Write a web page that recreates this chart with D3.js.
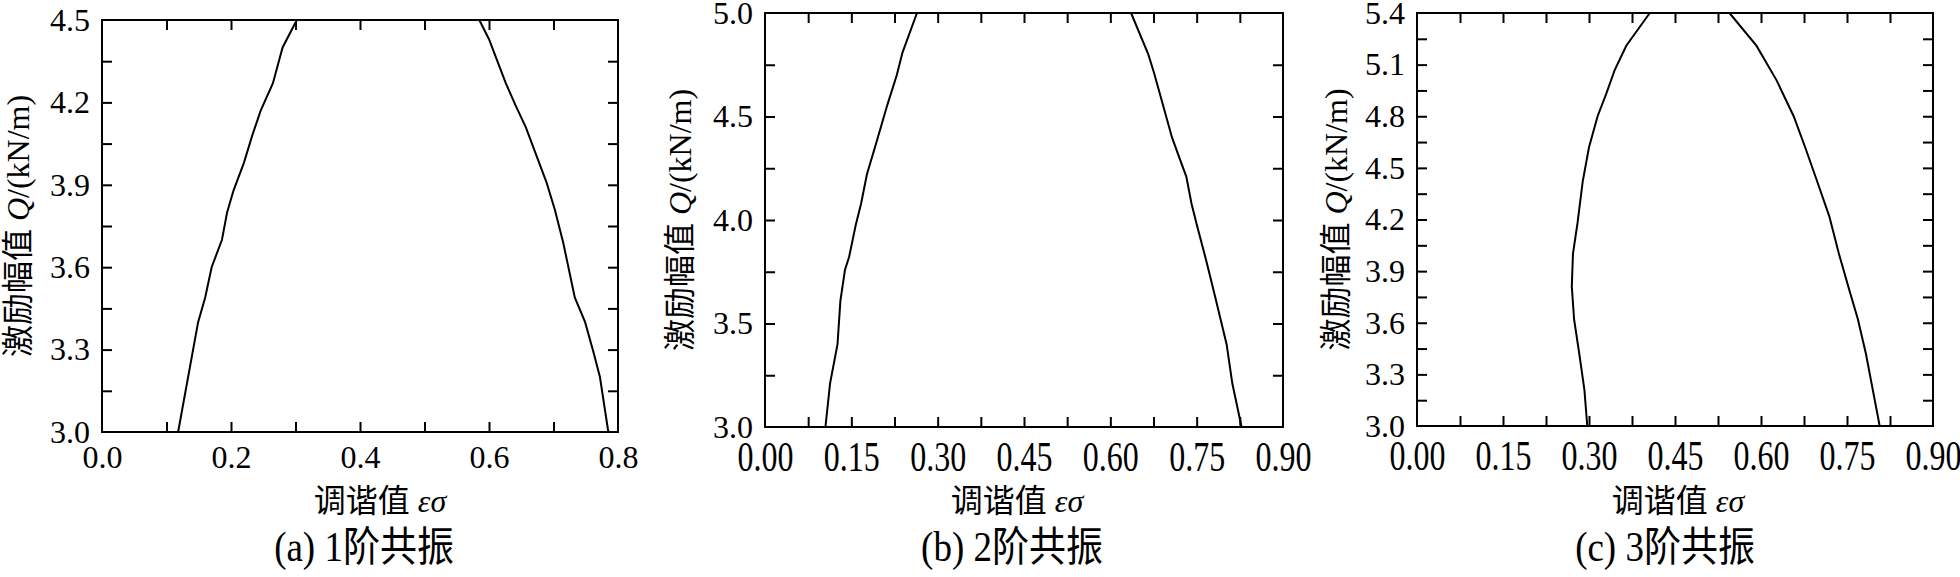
<!DOCTYPE html>
<html>
<head>
<meta charset="utf-8">
<title>激励幅值-调谐值</title>
<script src="https://cdn.jsdelivr.net/npm/d3@7"></script>
<style>
  body { margin: 0; background: #fff; }
  text { font-family: "Liberation Serif", "Noto Sans CJK SC", serif; fill: #000; }
</style>
</head>
<body>
<script>
// (a) 1阶共振
const p1LeftE  = [0.118, 0.149, 0.160, 0.170, 0.186, 0.194, 0.204, 0.220, 0.233, 0.246, 0.265, 0.280, 0.302];
const p1LeftQ  = [3.00, 3.40, 3.49, 3.60, 3.70, 3.80, 3.88, 3.98, 4.08, 4.17, 4.27, 4.40, 4.50];
const p1RightE = [0.585, 0.600, 0.613, 0.626, 0.641, 0.657, 0.673, 0.689, 0.702, 0.715, 0.733, 0.749, 0.762, 0.772, 0.785];
const p1RightQ = [4.50, 4.43, 4.35, 4.27, 4.19, 4.11, 4.01, 3.91, 3.81, 3.69, 3.49, 3.40, 3.29, 3.20, 3.00];

// (b) 2阶共振
const p2LeftE  = [0.105, 0.113, 0.126, 0.131, 0.139, 0.146, 0.158, 0.167, 0.177, 0.193, 0.213, 0.229, 0.239, 0.264];
const p2LeftQ  = [3.00, 3.21, 3.40, 3.61, 3.76, 3.82, 3.98, 4.08, 4.22, 4.37, 4.56, 4.70, 4.81, 5.00];
const p2RightE = [0.636, 0.666, 0.676, 0.691, 0.707, 0.720, 0.732, 0.741, 0.750, 0.767, 0.782, 0.802, 0.812, 0.828];
const p2RightQ = [5.00, 4.80, 4.71, 4.56, 4.40, 4.30, 4.21, 4.08, 3.98, 3.80, 3.63, 3.40, 3.21, 3.00];

// (c) 3阶共振
const p3LeftE  = [0.297, 0.292, 0.283, 0.274, 0.270, 0.272, 0.280, 0.289, 0.300, 0.315, 0.330, 0.345, 0.365, 0.406];
const p3LeftQ  = [3.00, 3.21, 3.42, 3.62, 3.81, 4.00, 4.18, 4.42, 4.62, 4.80, 4.93, 5.07, 5.21, 5.40];
const p3RightE = [0.545, 0.592, 0.627, 0.657, 0.677, 0.695, 0.719, 0.736, 0.754, 0.769, 0.783, 0.795, 0.807];
const p3RightQ = [5.40, 5.21, 5.01, 4.80, 4.62, 4.45, 4.22, 4.00, 3.79, 3.62, 3.42, 3.21, 3.00];

// ticks (labelled + minor)
const p1XLabels = [0, 0.2, 0.4, 0.6, 0.8];
const p1XMinor  = [0.1, 0.3, 0.5, 0.7];
const p1YLabels = [3.0, 3.3, 3.6, 3.9, 4.2, 4.5];
const p1YMinor  = [3.15, 3.45, 3.75, 4.05, 4.35];
const p2XLabels = [0, 0.15, 0.30, 0.45, 0.60, 0.75, 0.90];
const p2XMinor  = [0.075, 0.225, 0.375, 0.525, 0.675, 0.825];
const p2YLabels = [3.0, 3.5, 4.0, 4.5, 5.0];
const p2YMinor  = [3.25, 3.75, 4.25, 4.75];
const p3XLabels = [0, 0.15, 0.30, 0.45, 0.60, 0.75, 0.90];
const p3XMinor  = [0.075, 0.225, 0.375, 0.525, 0.675, 0.825];
const p3YLabels = [3.0, 3.3, 3.6, 3.9, 4.2, 4.5, 4.8, 5.1, 5.4];
const p3YMinor  = [3.15, 3.45, 3.75, 4.05, 4.35, 4.65, 4.95, 5.25];

const captions = ["(a) 1阶共振", "(b) 2阶共振", "(c) 3阶共振"];

const W = 1960, H = 577;
const svg = d3.select("body").append("svg")
    .attr("width", W)
    .attr("height", H);

// layout of the three panels (titleDx / capDx: small horizontal shifts seen in the figure)
const panels = [
    {left: 102, top: 20, w: 516, h: 412, xDom: [0, 0.8], yDom: [3, 4.5], xLab: p1XLabels, xMin: p1XMinor, yLab: p1YLabels, yMin: p1YMinor,
     xFmt: d3.format(".1f"), stretch: 1, yTitleX: 18, titleDx: 20, capDx: 4,
     curves: [[p1LeftE, p1LeftQ], [p1RightE, p1RightQ]]},
    {left: 765, top: 13, w: 518, h: 414, xDom: [0, 0.9], yDom: [3, 5], xLab: p2XLabels, xMin: p2XMinor, yLab: p2YLabels, yMin: p2YMinor,
     xFmt: d3.format(".2f"), stretch: 1.35, yTitleX: 680, titleDx: -7, capDx: -12,
     curves: [[p2LeftE, p2LeftQ], [p2RightE, p2RightQ]]},
    {left: 1417, top: 13, w: 516, h: 413, xDom: [0, 0.9], yDom: [3, 5.4], xLab: p3XLabels, xMin: p3XMinor, yLab: p3YLabels, yMin: p3YMinor,
     xFmt: d3.format(".2f"), stretch: 1.35, yTitleX: 1336, titleDx: 3, capDx: -10,
     curves: [[p3LeftE, p3LeftQ], [p3RightE, p3RightQ]]}
];

const tickLen = 10;
const yFmt = d3.format(".1f");

panels.forEach((p, i) => {
    const x = d3.scaleLinear().domain(p.xDom).range([p.left, p.left + p.w]);
    const y = d3.scaleLinear().domain(p.yDom).range([p.top + p.h, p.top]);
    const xAll = p.xLab.concat(p.xMin).sort(d3.ascending);
    const yAll = p.yLab.concat(p.yMin).sort(d3.ascending);
    const isLab = (arr) => (d) => arr.some(v => Math.abs(v - d) < 1e-9);

    // bottom axis with labels
    const xb = svg.append("g")
        .attr("transform", "translate(0," + (p.top + p.h) + ")")
        .call(d3.axisBottom(x).tickValues(xAll).tickSizeInner(-tickLen).tickSizeOuter(0)
            .tickPadding(p.stretch > 1 ? 10 : 13)
            .tickFormat(d => isLab(p.xLab)(d) ? p.xFmt(d) : ""));
    xb.selectAll(".tick text").style("font-size", "32px")
        .attr("transform", "scale(1," + p.stretch + ")");

    // left axis with labels
    const yl = svg.append("g")
        .attr("transform", "translate(" + p.left + ",0)")
        .call(d3.axisLeft(y).tickValues(yAll).tickSizeInner(-tickLen).tickSizeOuter(0)
            .tickPadding(12)
            .tickFormat(d => isLab(p.yLab)(d) ? yFmt(d) : ""));
    yl.selectAll(".tick text").style("font-size", "32px");

    // mirrored ticks on top and right
    const xt = svg.append("g")
        .attr("transform", "translate(0," + p.top + ")")
        .call(d3.axisTop(x).tickValues(xAll).tickSizeInner(-tickLen).tickSizeOuter(0).tickFormat(""));
    const yr = svg.append("g")
        .attr("transform", "translate(" + (p.left + p.w) + ",0)")
        .call(d3.axisRight(y).tickValues(yAll).tickSizeInner(-tickLen).tickSizeOuter(0).tickFormat(""));

    [xb, yl, xt, yr].forEach(g => {
        g.select(".domain").remove();
        g.selectAll(".tick line").attr("stroke", "#000").attr("stroke-width", 2);
        g.selectAll(".tick").filter(d => d === p.xDom[0] || d === p.xDom[1] || d === p.yDom[0] || d === p.yDom[1])
            .select("line").remove();
    });

    // curves
    const line = d3.line().x(d => x(d[0])).y(d => y(d[1]));
    p.curves.forEach(([es, qs]) => {
        svg.append("path")
            .datum(es.map((e, k) => [e, qs[k]]))
            .attr("d", line)
            .attr("fill", "none")
            .attr("stroke", "#000")
            .attr("stroke-width", 2);
    });

    // frame
    svg.append("rect")
        .attr("x", p.left).attr("y", p.top)
        .attr("width", p.w).attr("height", p.h)
        .attr("fill", "none").attr("stroke", "#000").attr("stroke-width", 2);

    const cx = p.left + p.w / 2;

    // y title
    const yt = svg.append("text")
        .attr("transform", "translate(" + p.yTitleX + "," + (p.top + p.h / 2) + ") rotate(-90)")
        .attr("text-anchor", "middle")
        .attr("dominant-baseline", "central")
        .style("font-size", "32px");
    yt.append("tspan").text("激励幅值 ");
    yt.append("tspan").style("font-style", "italic").text("Q");
    yt.append("tspan").text("/(kN/m)");

    // x title
    const xtTitle = svg.append("text")
        .attr("x", cx + p.titleDx).attr("y", 512)
        .attr("text-anchor", "middle")
        .style("font-size", "32px");
    xtTitle.append("tspan").text("调谐值 ");
    xtTitle.append("tspan").style("font-style", "italic").text("εσ");

    // caption
    svg.append("text")
        .attr("transform", "translate(" + (cx + p.capDx) + ",561) scale(1,1.12)")
        .attr("text-anchor", "middle")
        .style("font-size", "37px")
        .text(captions[i]);
});
</script>
</body>
</html>
